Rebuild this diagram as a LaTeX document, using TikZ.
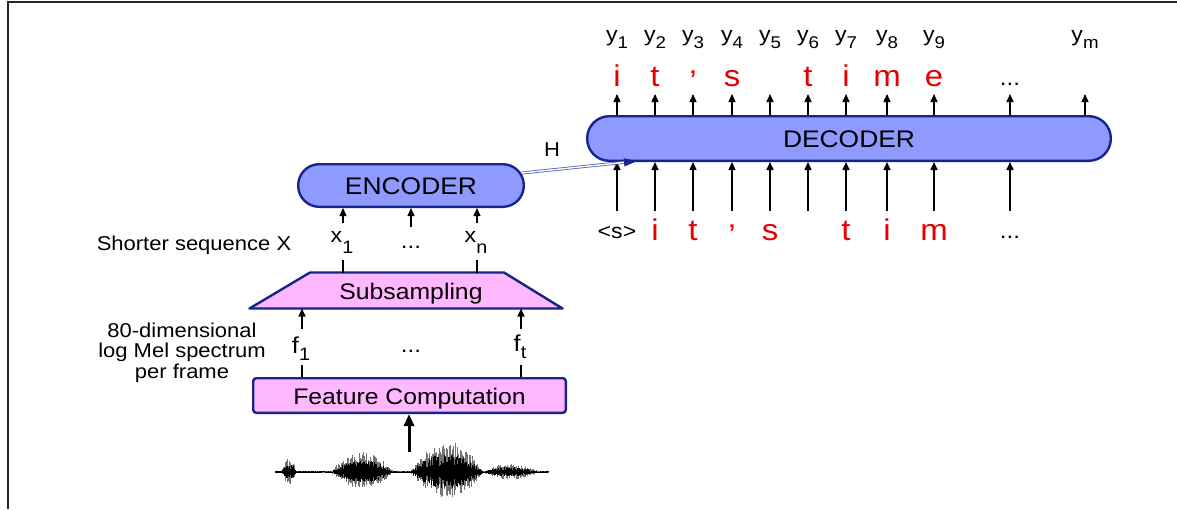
\documentclass[tikz,border=0pt]{standalone}
\usepackage{fontspec}
\setmainfont{Liberation Sans}[FakeStretch=1.1]
\usetikzlibrary{arrows.meta}
\definecolor{navy}{RGB}{22,36,140}
\definecolor{peri}{RGB}{143,154,255}
\definecolor{pinkf}{RGB}{255,184,255}
\definecolor{txtred}{RGB}{232,0,0}
\definecolor{hblue}{RGB}{80,96,176}
\newcommand\fs[1]{\fontsize{#1}{#1}\selectfont}
\newcommand\ylab[1]{{\fs{21}y}\raisebox{-7pt}{\fs{17}#1}}
\newcommand\xlab[1]{{\fs{21}x}\raisebox{-11pt}{\fs{18}#1}}
\newcommand\flab[1]{{\fs{23}f}\raisebox{-7pt}{\fs{18}#1}}
\newcommand\apos{\raisebox{-5pt}{’}}
\begin{document}
\begin{tikzpicture}[x=1pt,y=-1pt,
  blk/.style={draw=navy, fill=peri, line width=2.4pt},
  pnk/.style={draw=navy, fill=pinkf, line width=2.4pt},
  arr/.style={line width=1.4pt, -{Triangle[length=8pt,width=7pt]}},
  stub/.style={line width=1.4pt},
  lbl/.style={anchor=base, inner sep=0pt},
  rtxt/.style={lbl, text=txtred, font=\fs{30}},
  dots/.style={lbl, font=\fs{22}}]
\useasboundingbox (0,0) rectangle (1177,509);
\fill[white] (0,0) rectangle (1177,509);
\draw[line width=2pt, black!85] (1177,1.5) -- (7.5,1.5) -- (7.5,509);

% decoder
\node[blk, minimum width=523.6pt, minimum height=44.6pt, rounded corners=22pt,
      font=\fs{24}, text height=17pt, text depth=0pt] (dec) at (849,138.5) {DECODER};
% encoder
\node[blk, minimum width=225.6pt, minimum height=42.6pt, rounded corners=21pt,
      font=\fs{24}, text height=17pt, text depth=0pt] (enc) at (411,185.5) {ENCODER};

% output side
\foreach \n/\px in {1/617,2/655,3/693,4/732,5/770,6/808,7/846,8/887,9/934,d/1010,m/1085}{
  \coordinate (o\n) at (\px,94);
  \draw[arr] (dec.north -| o\n) -- (o\n);
}
\foreach \n/\px in {1/617,2/655,3/693,4/732,5/770,6/808,7/846,8/887,9/934,m/1085}{
  \node[lbl] (y\n) at (\px,41) {\ylab{\n}};
}
\foreach \n/\px/\ch in {1/617/i,2/655/t,3/693/{\apos},4/732/s,6/808/t,7/846/i,8/887/m,9/934/e}{
  \node[rtxt] (r\n) at (\px,86) {\ch};
}
\node[dots] (rdots) at (1010,85) {...};

% input side
\foreach \n/\px in {1/617,2/655,3/693,4/732,5/770,6/808,7/846,8/887,9/934,d/1010}{
  \coordinate (i\n) at (\px,211);
  \draw[arr] (i\n) -- (dec.south -| i\n);
}
\node[lbl, font=\fs{21}] (start) at (617,238) {<s>};
\foreach \n/\px/\ch in {2/655/i,3/693/t,4/732/{\apos},5/770/s,7/846/t,8/887/i,9/934/m}{
  \node[rtxt] (q\n) at (\px,240) {\ch};
}
\node[dots] (qdots) at (1010,238) {...};

% H connection
\coordinate (hs) at (522,173);
\coordinate (ht) at (637,161);
\draw[hblue, line width=0.8pt, double=white, double distance=1.4pt,
      -{Triangle[length=13pt,width=8pt,color=navy]}] (hs) -- (ht);
\node[lbl, font=\fs{20}] (h) at (552,156) {H};

% subsampling
\filldraw[pnk, line join=round] (249.5,308.5) coordinate (sbl) -- (310,272.5) coordinate (stl)
   -- (504,272.5) coordinate (str) -- (562.5,308.5) coordinate (sbr) -- cycle;
\node[lbl, font=\fs{22.5}] (sub) at (411,299) {Subsampling};

% x labels
\coordinate (e1) at (343,223);
\coordinate (e2) at (411,227);
\coordinate (e3) at (477,223);
\foreach \e in {e1,e2,e3}{ \draw[arr] (\e) -- (enc.south -| \e); }
\coordinate (s1) at (343,260);
\coordinate (s3) at (477,260);
\draw[stub] (s1) -- (s1 |- stl);
\draw[stub] (s3) -- (s3 |- str);
\node[lbl] (x1) at (342,242) {\xlab{1}};
\node[lbl] (xn) at (476,242) {\xlab{n}};
\node[dots] (xdots) at (411,248) {...};
\node[lbl, font=\fs{20}] (sx) at (194,250) {Shorter sequence X};

% feature computation
\node[pnk, minimum width=312.6pt, minimum height=34.6pt, rounded corners=3pt,
      font=\fs{22.5}, text height=17pt, text depth=0pt] (feat) at (409.5,395.5) {Feature Computation};
\coordinate (fa1) at (302,329);
\coordinate (fa2) at (521,329);
\draw[arr] (fa1) -- (fa1 |- sbl);
\draw[arr] (fa2) -- (fa2 |- sbr);
\coordinate (fs1) at (302,365);
\coordinate (fs2) at (521,365);
\draw[stub] (fs1) -- (fs1 |- feat.north);
\draw[stub] (fs2) -- (fs2 |- feat.north);
\node[lbl] (f1) at (301,353) {\flab{1}};
\node[lbl] (ft) at (520,351) {\flab{t}};
\node[dots] (fdots) at (411,352) {...};

\node[lbl, font=\fs{20}] (d1) at (182,337.5) {80-dimensional};
\node[lbl, font=\fs{20}] (d2) at (182,357) {log Mel spectrum};
\node[lbl, font=\fs{20}] (d3) at (182,378) {per frame};

% waveform
\draw[line width=0.6pt] (275,472) -- (548,472);
\pgfmathsetseed{3}
\foreach \px in {275,275.7,...,548}{
  \pgfmathsetmacro\ea{(\px-289)/7}
  \pgfmathsetmacro\eb{(\px-362)/30}
  \pgfmathsetmacro\ec{(\px-447)/36}
  \pgfmathsetmacro\ed{(\px-511)/26}
  \pgfmathsetmacro\env{1.5+13*max(0,1-(\ea)*(\ea))+19*max(0,1-(\eb)*(\eb))+29*max(0,1-(\ec)*(\ec))+7*max(0,1-(\ed)*(\ed))}
  \pgfmathsetmacro\hu{\env*(0.3+0.7*rnd)}
  \pgfmathsetmacro\hd{\env*(0.3+0.7*rnd)*0.85}
  \draw[black!55, line width=0.5pt] (\px,472-\hu) -- (\px,472+\hd);
  \pgfmathsetmacro\hc{\env*(0.2+0.4*rnd)}
  \draw[black, line width=0.8pt] (\px,472-\hc) -- (\px,472+0.9*\hc);
}
\coordinate (wv) at (409,452);
\draw[line width=3pt, -{Triangle[length=12pt,width=10pt]}] (wv) -- (feat.south -| wv);
\end{tikzpicture}
\end{document}
